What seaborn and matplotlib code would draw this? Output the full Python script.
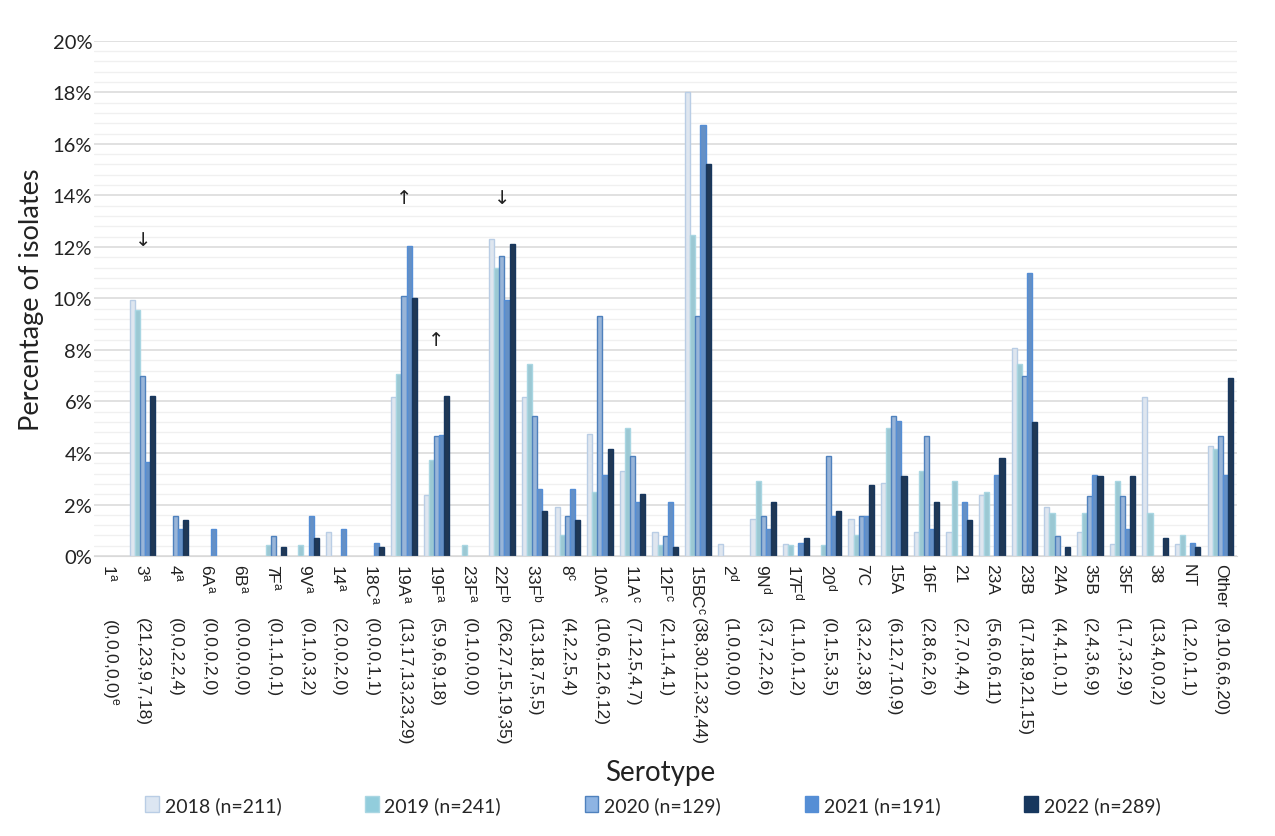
import numpy as np
import pandas as pd
import seaborn as sns
import matplotlib.pyplot as plt
from matplotlib.ticker import MultipleLocator, FuncFormatter
from matplotlib.patches import Patch

sns.set_style('white')
plt.rcParams['font.family'] = ['Lato', 'DejaVu Sans']
plt.rcParams['mathtext.fontset'] = 'custom'
plt.rcParams['mathtext.rm'] = 'Liberation Sans'
plt.rcParams['mathtext.default'] = 'rm'

# serotype names, superscript letters and the counts printed under each name
serotypes = ['1', '3', '4', '6A', '6B', '7F', '9V', '14', '18C', '19A', '19F', '23F',
             '22F', '33F', '8', '10A', '11A', '12F', '15BC', '2', '9N', '17F', '20',
             '7C', '15A', '16F', '21', '23A', '23B', '24A', '35B', '35F', '38', 'NT', 'Other']
sups = ['a'] * 12 + ['b'] * 2 + ['c'] * 5 + ['d'] * 4 + [''] * 12
counts = ['(0,0,0,0,0)$^{e}$', '(21,23,9,7,18)', '(0,0,2,2,4)', '(0,0,0,2,0)', '(0,0,0,0,0)',
          '(0,1,1,0,1)', '(0,1,0,3,2)', '(2,0,0,2,0)', '(0,0,0,1,1)', '(13,17,13,23,29)',
          '(5,9,6,9,18)', '(0,1,0,0,0)', '(26,27,15,19,35)', '(13,18,7,5,5)', '(4,2,2,5,4)',
          '(10,6,12,6,12)', '(7,12,5,4,7)', '(2,1,1,4,1)', '(38,30,12,32,44)', '(1,0,0,0,0)',
          '(3,7,2,2,6)', '(1,1,0,1,2)', '(0,1,5,3,5)', '(3,2,2,3,8)', '(6,12,7,10,9)',
          '(2,8,6,2,6)', '(2,7,0,4,4)', '(5,6,0,6,11)', '(17,18,9,21,15)', '(4,4,1,0,1)',
          '(2,4,3,6,9)', '(1,7,3,2,9)', '(13,4,0,0,2)', '(1,2,0,1,1)', '(9,10,6,6,20)']

years = ['2018 (n=211)', '2019 (n=241)', '2020 (n=129)', '2021 (n=191)', '2022 (n=289)']

# percentage of isolates per serotype, one list per year
p2018 = [0, 9.95, 0, 0, 0, 0, 0, 0.95, 0, 6.16, 2.37, 0, 12.32, 6.16, 1.90, 4.74, 3.32, 0.95,
         18.01, 0.47, 1.42, 0.47, 0, 1.42, 2.84, 0.95, 0.95, 2.37, 8.06, 1.90, 0.95, 0.47, 6.16,
         0.47, 4.27]
p2019 = [0, 9.54, 0, 0, 0, 0.41, 0.41, 0, 0, 7.05, 3.73, 0.41, 11.20, 7.47, 0.83, 2.49, 4.98,
         0.41, 12.45, 0, 2.90, 0.41, 0.41, 0.83, 4.98, 3.32, 2.90, 2.49, 7.47, 1.66, 1.66, 2.90,
         1.66, 0.83, 4.15]
p2020 = [0, 6.98, 1.55, 0, 0, 0.78, 0, 0, 0, 10.08, 4.65, 0, 11.63, 5.43, 1.55, 9.30, 3.88,
         0.78, 9.30, 0, 1.55, 0, 3.88, 1.55, 5.43, 4.65, 0, 0, 6.98, 0.78, 2.33, 2.33, 0, 0,
         4.65]
p2021 = [0, 3.66, 1.05, 1.05, 0, 0, 1.57, 1.05, 0.52, 12.04, 4.71, 0, 9.95, 2.62, 2.62, 3.14,
         2.09, 2.09, 16.75, 0, 1.05, 0.52, 1.57, 1.57, 5.24, 1.05, 2.09, 3.14, 10.99, 0, 3.14,
         1.05, 0, 0.52, 3.14]
p2022 = [0, 6.23, 1.38, 0, 0, 0.35, 0.69, 0, 0.35, 10.03, 6.23, 0, 12.11, 1.73, 1.38, 4.15,
         2.42, 0.35, 15.22, 0, 2.08, 0.69, 1.73, 2.77, 3.11, 2.08, 1.38, 3.81, 5.19, 0.35, 3.11,
         3.11, 0.69, 0.35, 6.92]

# trend arrows: serotype, symbol, height
arrows = [('3', '↓', 12.3), ('19A', '↑', 13.9), ('19F', '↑', 8.4), ('22F', '↓', 13.9)]

fills = ['#dce6f2', '#92cddc', '#8eb4e3', '#558ed5', '#17375e']
edges = ['#b9cde5', '#a9d6e2', '#4f81bd', '#558ed5', '#17375e']

df = pd.DataFrame({'Serotype': serotypes, years[0]: p2018, years[1]: p2019,
                   years[2]: p2020, years[3]: p2021, years[4]: p2022})
long_df = df.melt(id_vars='Serotype', var_name='Year', value_name='Pct')

fig = plt.figure(figsize=(12.75, 8.37), dpi=100)
ax = fig.add_axes([0.0735, 0.3345, 0.8965, 0.6155])

sns.barplot(data=long_df, x='Serotype', y='Pct', hue='Year', order=serotypes,
            hue_order=years, palette=fills, width=0.78, legend=False, ax=ax)
for cont, ec in zip(ax.containers, edges):
    for bar in cont:
        bar.set_edgecolor(ec)
        bar.set_linewidth(1.0)
        if bar.get_height() == 0:
            bar.set_visible(False)

ax.set_ylim(0, 20)
ax.set_xlim(-0.5, len(serotypes) - 0.5)
ax.set_yticks(np.arange(0, 20.1, 2))
ax.yaxis.set_minor_locator(MultipleLocator(0.4))
ax.yaxis.set_major_formatter(FuncFormatter(lambda v, p: f'{v:.0f}%'))
ax.grid(which='major', axis='y', color='#d9d9d9', lw=1.1)
ax.grid(which='minor', axis='y', color='#f0f0f0', lw=1.0)
ax.set_axisbelow(True)
ax.tick_params(axis='both', which='both', length=0)
ax.tick_params(axis='y', labelsize=14.5, colors='#222222', pad=1)
for s in ['top', 'right', 'left']:
    ax.spines[s].set_visible(False)
ax.spines['bottom'].set_color('#d9d9d9')

names = [n + (f'$^{{{s}}}$' if s else '') for n, s in zip(serotypes, sups)]
ax.set_xticks(range(len(serotypes)))
ax.set_xticklabels(names, rotation=270, va='top', ha='center', fontsize=12.5,
                   family='Liberation Sans', color='#222222')
ax.tick_params(axis='x', pad=5)
for i, c in enumerate(counts):
    ax.annotate(c, xy=(i, 0), xycoords=('data', 'axes fraction'), xytext=(0, -44),
                textcoords='offset points', rotation=270, va='top', ha='center',
                fontsize=12.5, family='Liberation Sans', color='#222222')

for name, sym, y in arrows:
    ax.text(serotypes.index(name), y, sym, ha='center', va='center', fontsize=14,
            family='DejaVu Sans', color='#222222')

ax.set_ylabel('Percentage of isolates', fontsize=19.5, color='#222222', labelpad=6)
ax.set_xlabel('')
fig.text(0.518, 0.077, 'Serotype', ha='center', va='center', fontsize=20, color='#222222')

handles = [Patch(facecolor=f, edgecolor=e, label=y) for f, e, y in zip(fills, edges, years)]
fig.legend(handles=handles, loc='center', bbox_to_anchor=(0.512, 0.037), ncol=5,
           frameon=False, handlelength=0.7, handleheight=0.85,
           handletextpad=0.3, columnspacing=4.3, prop={'family': 'Lato', 'size': 14})

fig.savefig('out.png', dpi=100)
